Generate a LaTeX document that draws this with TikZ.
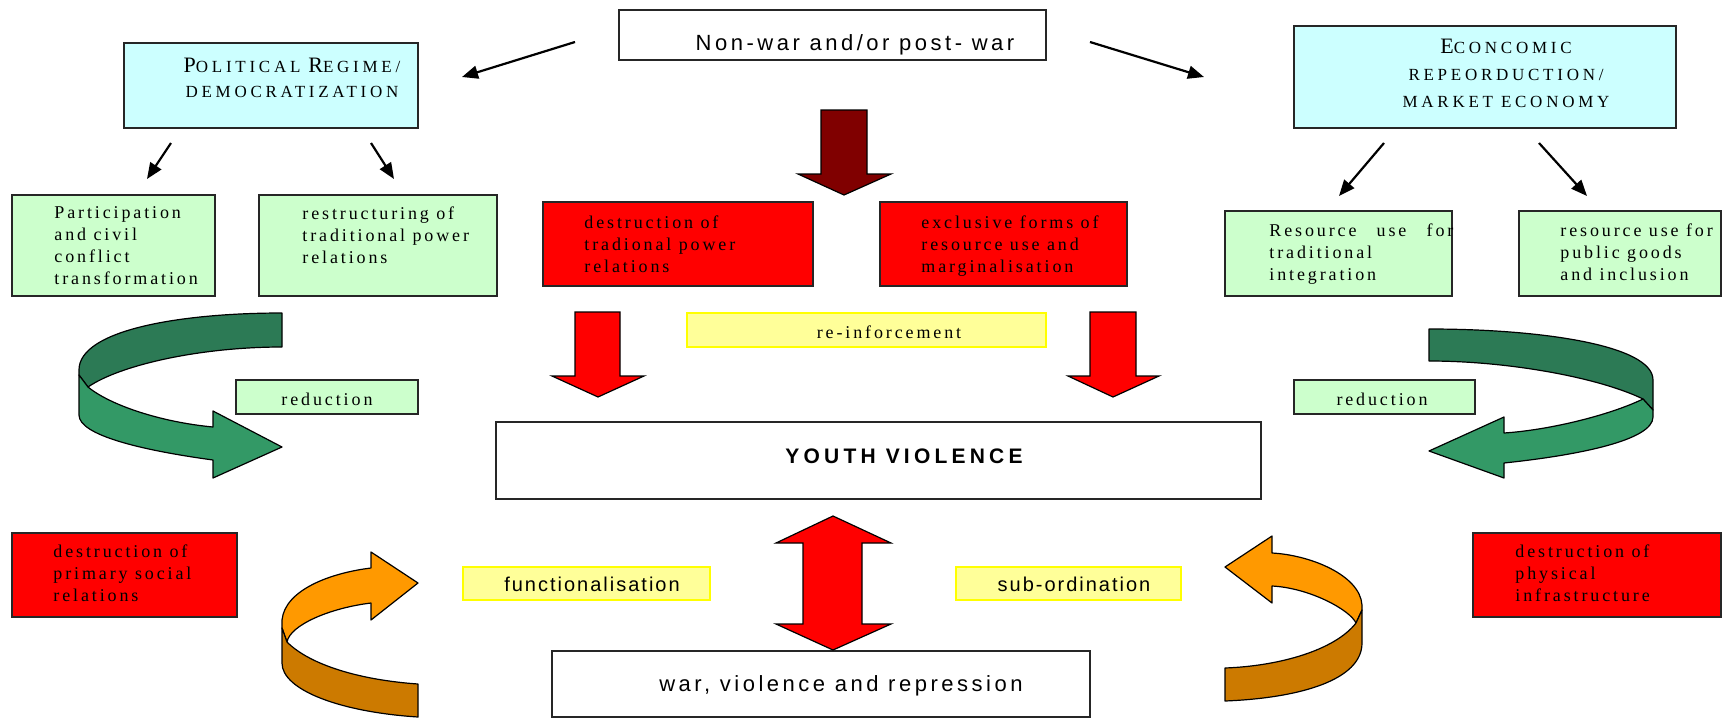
\documentclass[tikz,border=0pt]{standalone}
\usepackage{fontspec}
\setmainfont{Liberation Serif}
\newfontfamily\sersp[LetterSpace=16]{Liberation Serif}
\newfontfamily\capsp[LetterSpace=22]{Liberation Serif}
\newfontfamily\sanssp[LetterSpace=16]{Liberation Sans}
\newfontfamily\sansboldsp[LetterSpace=20]{Liberation Sans}
\newfontfamily\sansnsp[LetterSpace=10]{Liberation Sans}
\usetikzlibrary{fit,arrows.meta}
\definecolor{cyanC}{HTML}{CCFFFF}
\definecolor{greenC}{HTML}{CCFFCC}
\definecolor{yellowC}{HTML}{FFFF99}
\definecolor{yellowB}{HTML}{FFFF00}
\definecolor{darkredC}{HTML}{800000}
\definecolor{redC}{HTML}{FF0000}
\definecolor{dgreenC}{HTML}{2C7A55}
\definecolor{lgreenC}{HTML}{339966}
\definecolor{lorangeC}{HTML}{FF9900}
\definecolor{dorangeC}{HTML}{CC7A00}
\newcommand\capL[1]{{\fontsize{11}{13}\selectfont #1}}
\begin{document}
\begin{tikzpicture}[x=0.5pt,y=-0.5pt,
  box/.style={draw=black!85,line width=0.7pt,inner sep=0pt},
  ybox/.style={draw=yellowB,fill=yellowC,line width=0.9pt,inner sep=0pt},
  lbl/.style={inner sep=0pt,anchor=base},
  mtxt/.style={inner sep=0pt,anchor=base west,align=left,font=\sersp\fontsize{9}{11}\selectfont},
  arr/.style={line width=1.1pt,-{Triangle[length=8pt,width=6.5pt]}},
  blockline/.style={draw=black,line width=0.6pt},
  ribbon/.style={draw=black,line width=0.6pt,line join=round}]
\useasboundingbox (0,0) rectangle (1730,718);

% ---------- boxes ----------
\node[box,fill=white,fit={(619,10) (1046,60)}] (nw) {};
\node[box,fill=cyanC,fit={(124,43) (418,128)}] (pr) {};
\node[box,fill=cyanC,fit={(1294,26) (1676,128)}] (ec) {};
\node[box,fill=greenC,fit={(12,195) (215,296)}] (g1) {};
\node[box,fill=greenC,fit={(259,195) (497,296)}] (g2) {};
\node[box,fill=redC,fit={(543,202) (813,286)}] (r1) {};
\node[box,fill=redC,fit={(880,202) (1127,286)}] (r2) {};
\node[box,fill=greenC,fit={(1225,211) (1452,296)}] (g3) {};
\node[box,fill=greenC,fit={(1519,211) (1721,296)}] (g4) {};
\node[ybox,fit={(687,313) (1046,347)}] (reinf) {};
\node[box,fill=greenC,fit={(236,380) (418,414)}] (redL) {};
\node[box,fill=greenC,fit={(1294,380) (1475,414)}] (redR) {};
\node[box,fill=white,fit={(496,422) (1261,499)}] (yv) {};
\node[box,fill=redC,fit={(12,533) (237,617)}] (r3) {};
\node[box,fill=redC,fit={(1473,533) (1721,617)}] (r4) {};
\node[ybox,fit={(463,567) (710,600)}] (func) {};
\node[ybox,fit={(956,567) (1181,600)}] (sub) {};
\node[box,fill=white,fit={(552,651) (1090,717)}] (war) {};

% ---------- texts (multi-line nodes anchored at last baseline) ----------
\node[lbl,font=\sanssp\fontsize{11}{13}\selectfont] (nwt) at (855,50) {Non-war and/or post- war};
\node[lbl,align=center,font=\capsp\fontsize{8.5}{12.5}\selectfont] (prt) at (292,97) {\capL{P}OLITICAL \capL{R}EGIME/\\DEMOCRATIZATION};
\node[lbl,align=center,font=\capsp\fontsize{8.5}{13.5}\selectfont] (ect) at (1506,107) {\capL{E}CONCOMIC\\REPEORDUCTION/\\MARKET ECONOMY};
\node[mtxt] (g1t) at (54,284) {Participation\\and civil\\conflict\\transformation};
\node[mtxt] (g2t) at (302,263) {restructuring of\\traditional power\\relations};
\node[mtxt] (r1t) at (584,272) {destruction of\\tradional power\\relations};
\node[mtxt] (r2t) at (921,272) {exclusive forms of\\resource use and\\marginalisation};
\node[mtxt] (g3t) at (1269,280) {\makebox[92pt][s]{Resource use for}\\traditional\\integration};
\node[mtxt] (g4t) at (1560,280) {resource use for\\public goods\\and inclusion};
\node[lbl,font=\sersp\fontsize{9}{11}\selectfont] (reinft) at (889,338) {re-inforcement};
\node[lbl,font=\sersp\fontsize{9}{11}\selectfont] (redLt) at (327,405) {reduction};
\node[lbl,font=\sersp\fontsize{9}{11}\selectfont] (redRt) at (1382,405) {reduction};
\node[lbl,font=\sansboldsp\bfseries\fontsize{10.5}{12}\selectfont] (yvt) at (904,463) {YOUTH VIOLENCE};
\node[mtxt] (r3t) at (53,601) {destruction of\\primary social\\relations};
\node[mtxt] (r4t) at (1515,601) {destruction of\\physical\\infrastructure};
\node[lbl,font=\sansnsp\fontsize{10}{12}\selectfont] (funct) at (592,591) {functionalisation};
\node[lbl,font=\sansnsp\fontsize{10}{12}\selectfont] (subt) at (1074,591) {sub-ordination};
\node[lbl,font=\sanssp\fontsize{11}{13}\selectfont] (wart) at (841,691) {war, violence and repression};

% ---------- thin arrows ----------
\coordinate (a1s) at (575,42);   \coordinate (a1e) at (462,77);
\coordinate (a2s) at (1090,42);  \coordinate (a2e) at (1204,77);
\coordinate (a3s) at (171,143);  \coordinate (a3e) at (147,179);
\coordinate (a4s) at (371,143);  \coordinate (a4e) at (394,179);
\coordinate (a5s) at (1384,143); \coordinate (a5e) at (1339,196);
\coordinate (a6s) at (1539,143); \coordinate (a6e) at (1587,196);
\draw[arr] (a1s) -- (a1e);
\draw[arr] (a2s) -- (a2e);
\draw[arr] (a3s) -- (a3e);
\draw[arr] (a4s) -- (a4e);
\draw[arr] (a5s) -- (a5e);
\draw[arr] (a6s) -- (a6e);

% ---------- block arrows ----------
\filldraw[blockline,fill=darkredC] (821,110) -- (867,110) -- (867,174) -- (891,174) -- (844,195) -- (798,174) -- (821,174) -- cycle;
\filldraw[blockline,fill=redC] (575,312) -- (620,312) -- (620,376) -- (644,376) -- (598,397) -- (552,376) -- (575,376) -- cycle;
\filldraw[blockline,fill=redC] (1090,312) -- (1136,312) -- (1136,376) -- (1159,376) -- (1113,397) -- (1068,376) -- (1090,376) -- cycle;
\filldraw[blockline,fill=redC] (833,516) -- (891,543) -- (862,543) -- (862,624) -- (891,624) -- (833,650) -- (776,624) -- (803,624) -- (803,543) -- (776,543) -- cycle;

% ---------- ribbon arrows ----------
% left green
\filldraw[ribbon,fill=dgreenC] (282,313) .. controls (180,313) and (79,330) .. (79,370) -- (79,375) -- (88,387)
  .. controls (120,365) and (200,347) .. (282,347) -- cycle;
\filldraw[ribbon,fill=lgreenC] (79,375) -- (88,387) .. controls (110,405) and (160,422) .. (213,427)
  -- (213,411) -- (282,447) -- (213,478) -- (213,460) .. controls (140,450) and (79,435) .. (79,415) -- cycle;
% right green
\filldraw[ribbon,fill=dgreenC] (1429,329) .. controls (1540,329) and (1653,345) .. (1653,380) -- (1653,410) -- (1643,399)
  .. controls (1600,378) and (1510,361) .. (1429,361) -- cycle;
\filldraw[ribbon,fill=lgreenC] (1653,410) -- (1643,399) .. controls (1610,415) and (1550,430) .. (1504,433)
  -- (1504,417) -- (1429,451) -- (1504,478) -- (1504,463) .. controls (1580,455) and (1653,440) .. (1653,417) -- cycle;
% left orange
\filldraw[ribbon,fill=lorangeC] (371,568) -- (371,552) -- (418,583) -- (371,620) -- (371,603)
  .. controls (330,608) and (290,625) .. (287,642) -- (282,628) -- (282,620) .. controls (285,590) and (330,573) .. (371,568) -- cycle;
\filldraw[ribbon,fill=dorangeC] (287,642) .. controls (310,665) and (360,680) .. (418,684) -- (418,717)
  .. controls (340,712) and (282,690) .. (282,663) -- (282,628) -- cycle;
% right orange
\filldraw[ribbon,fill=lorangeC] (1272,553) -- (1272,536) -- (1225,567) -- (1272,603) -- (1272,586)
  .. controls (1310,588) and (1350,610) .. (1356,623) -- (1362,610) -- (1362,605) .. controls (1360,575) and (1310,555) .. (1272,553) -- cycle;
\filldraw[ribbon,fill=dorangeC] (1356,623) .. controls (1335,650) and (1280,666) .. (1225,668) -- (1225,701)
  .. controls (1300,698) and (1362,680) .. (1362,643) -- (1362,610) -- cycle;
\end{tikzpicture}
\end{document}
